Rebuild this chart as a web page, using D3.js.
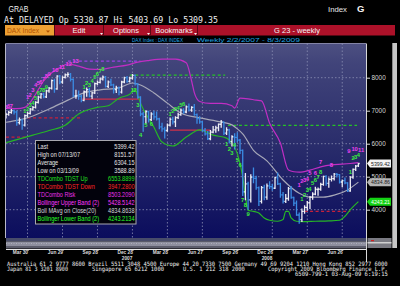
<!DOCTYPE html>
<html>
<head>
<meta charset="utf-8">
<script src="https://cdn.jsdelivr.net/npm/d3@7"></script>
<style>
  body { margin: 0; background: #000; }
  svg { display: block; }
</style>
</head>
<body>
<div id="chart"></div>
<script>
// weekly DAX bars, 2/2/2007 .. 8/3/2009 (week index 0..131)
const opens = [6800,6890,6950,7000,6960,6640,6720,6560,6850,6920,
  7050,7100,7250,7410,7500,7420,7600,7680,7910,7660,
  8050,7870,8010,8090,8100,7950,7450,7450,7440,7310,
  7580,7640,7440,7540,7820,7860,7960,8020,7740,7870,
  7780,7640,7700,7560,7870,8000,7890,7990,8070,7810,
  7410,6900,6820,6970,6730,6900,6810,6750,6510,6450,
  6400,6560,6740,6660,6790,6880,7020,6960,7120,7020,
  7100,6880,6760,6660,6400,6300,6150,6350,6420,6480,
  6590,6650,6320,6420,6060,6210,6190,6110,5800,4540,
  4780,4300,4990,4950,4670,4250,4670,4380,4720,4700,
  4650,4970,4780,4450,4250,4340,4640,4370,4200,3840,
  3700,3950,4070,4210,4380,4470,4610,4620,4770,5010,
  4800,4920,4940,5080,5060,4840,4880,4810,4570,4990,
  5220,5330.87];
const highs = [6920,6980,7040,7020,6990,6780,6730,6870,6950,7070,
  7130,7270,7440,7520,7530,7620,7700,7930,7950,8060,
  8070,8030,8110,8151.57,8130,7960,7620,7600,7470,7600,
  7690,7680,7560,7840,7900,7990,8050,8040,7900,7950,
  7800,7740,7720,7890,8010,8040,8010,8100,8080,7820,
  7420,6950,7000,6980,6940,6980,6960,6770,6620,6500,
  6600,6780,6800,6820,6920,7050,7060,7140,7200,7120,
  7190,6900,6820,6670,6460,6370,6400,6520,6530,6600,
  6700,6660,6480,6440,6240,6300,6330,6130,5810,5100,
  4830,5060,5266,5010,4690,4700,4740,4780,4850,4760,
  4980,5110,4800,4520,4460,4670,4700,4380,4260,3900,
  4020,4120,4250,4400,4510,4680,4660,4800,5010,5030,
  4960,5020,5100,5100,5070,4900,4960,4820,5000,5230,
  5340,5403.69];
const lows = [6780,6860,6920,6900,6560,6600,6440,6540,6810,6900,
  7010,7080,7230,7380,7390,7400,7560,7660,7560,7650,
  7820,7830,7990,8030,7900,7420,7380,7350,7270,7300,
  7440,7420,7370,7520,7790,7840,7930,7720,7700,7760,
  7540,7550,7480,7540,7850,7860,7870,7960,7780,7380,
  6850,6380,6620,6660,6700,6740,6720,6450,6380,6170,
  6380,6540,6600,6520,6760,6860,6920,6940,6990,6980,
  6860,6620,6620,6380,6260,6130,6120,6330,6350,6390,
  6500,6280,6280,6020,5930,5840,6060,5700,4430,4300,
  4014,4230,4820,4620,4130,4200,4300,4320,4640,4590,
  4640,4760,4380,4200,4220,4290,4350,4130,3830,3588.89,
  3640,3890,3980,4040,4320,4450,4440,4590,4740,4740,
  4680,4870,4900,4990,4810,4700,4790,4550,4560,4950,
  5190,5309.35];
const closes = [6890,6950,7000,6960,6640,6720,6560,6850,6920,7050,
  7100,7250,7410,7500,7420,7600,7680,7910,7660,8050,
  7870,8010,8090,8100,7950,7450,7450,7440,7310,7580,
  7640,7440,7540,7820,7860,7960,8020,7740,7870,7780,
  7640,7700,7560,7870,8000,7890,7990,8070,7810,7410,
  6900,6820,6970,6730,6900,6810,6750,6510,6450,6400,
  6560,6740,6660,6790,6880,7020,6960,7120,7020,7100,
  6880,6760,6660,6400,6300,6150,6350,6420,6480,6590,
  6650,6320,6420,6060,6210,6190,6110,5800,4540,4780,
  4300,4990,4950,4670,4250,4670,4380,4720,4700,4650,
  4970,4780,4450,4250,4340,4640,4370,4200,3840,3700,
  3950,4070,4210,4380,4470,4620,4620,4770,5010,4800,
  4920,4940,5080,5060,4840,4880,4810,4570,4990,5220,
  5320,5399.42];

// Bollinger study: [week, value]
const upperBand = [[0,7080],[4,7060],[7,7100],[9,7250],[11,7500],[14,7900],[17,8150],[20,8300],[23,8420],
  [27,8350],[31,8260],[35,8250],[40,8320],[45,8380],[49,8470],[53,8520],[58,8560],[63,8560],[67,8450],
  [69,7900],[70,7550],[72,7280],[76,7220],[80,7220],[84,7150],[85,7080],[87,7380],[90,7360],[93,7320],
  [95,7300],[98,6620],[102,6020],[105,5200],[107,5150],[109,5140],[113,5200],[117,5300],[121,5360],
  [125,5380],[128,5400],[131,5428.51]];
const midBand = [[0,6650],[5,6720],[10,6840],[16,7050],[23,7320],[29,7540],[35,7630],[42,7690],[47,7840],
  [50,7780],[55,7540],[60,7230],[65,6930],[72,6780],[80,6660],[84,6570],[86,6450],[88,6300],[92,5800],
  [97,5480],[103,4900],[109,4500],[113,4380],[118,4380],[122,4440],[127,4600],[131,4834.86]];
const lowerBand = [[0,6030],[10,6260],[16,6400],[22,6560],[27,6900],[34,7100],[38,7150],[42,7380],[46,7500],
  [48,7640],[49,7450],[50,7230],[55,6500],[58,6050],[62,5930],[67,6200],[72,6420],[77,6260],[82,6170],
  [84,6020],[86,5700],[88,5000],[89,4400],[90,3980],[92,3950],[94,3900],[96,3750],[98,3680],[101,3650],
  [103,3700],[104,3950],[105,3950],[106,3750],[108,3650],[110,3640],[115,3650],[120,3660],[124,3680],
  [126,3800],[128,4000],[131,4243.21]];

// TD levels: [fromWeek, toWeek, value]
const tdstUp = [[46,81.5,8080],[82.5,130.5,6553.89]];
const tdstDownDashed = [[0,8,6200],[8,28,6780],[111,128,3947.28]];
const tdstDownSolid = [[28,50,7350],[61,76,6410]];
const tdRisk = [[23,50,8503.21]];

// TD counts: [week, value, text]
const setupCounts = [[7,6990,"1"],[8,7060,"2"],[9,7180,"3"],[10,7250,"4"],[11,7380,"5"],[12,7540,"6"],[13,7620,"7"],[14,7640,"8"],[15,7730,"9"],
  [29,7720,"1"],[30,7830,"2"],[31,7780,"3"],[32,7900,"4"],[33,8020,"5"],[34,8130,"6"],[35,8210,"7"],[36,8280,"8"],
  [47,7620,"1"],[48,7640,"2"],[49,7180,"3"],[50,6260,"4"],[52,6560,"5"],[54,6600,"6"],
  [61,6900,"1"],[62,7000,"2"],[63,7040,"3"],[64,7100,"4"],[65,7180,"5"],[66,7200,"6"],
  [82,5980,"1"],[83,5850,"2"],[84,5720,"3"],[85,5960,"4"],[86,5500,"5"],[87,5350,"6"],[88,4300,"7"],[89,4150,"8"],[90,3880,"9"],
  [110,4320,"1"],[111,4440,"2"],[112,4590,"3"],[113,4620,"4"],[114,4800,"5"],[115,4890,"6"],[116,5000,"7"],[117,5140,"8"],
  [128,5140,"1"],[129,5560,"2"],[130,5600,"3"],[131,5650,"4"]];
const countdownCounts = [[0,7130,"5"],[1,7150,"6"],[2,7160,"7"],
  [8,7420,"1"],[9,7480,"2"],[10,7620,"3"],[11,7780,"4"],[12,7840,"5"],[13,7880,"6"],[14,7960,"7"],[15,8040,"8"],
  [16,8130,"9"],[18.3,8230,"10"],[20.8,8330,"11"],[23.3,8420,"12"],[25.8,8520,"13"],
  [109,4740,"1"],[110,4870,"2"],[111,4900,"3"],[112,4930,"4"],[113,5110,"5"],[115,5110,"6"],[117,5440,"7"],
  [121,5350,"8"],[127.5,5780,"9"],[129.6,5850,"10"],[132,5800,"11"]];

const priceTicks = [4000, 5000, 6000, 7000, 8000];
const dateTicks = [8, 21, 34, 47, 60, 73, 86, 99, 112, 125];
const dateLabels = ["Mar 30","Jun 29","Sep 28","Dec 28","Mar 28","Jun 27","Sep 26","Dec 26","Mar 27","Jun 26"];
const yearTicks = [47, 99];
const yearLabels = ["2007", "2008"];

const legendLabels = ["Last","High on 07/13/07","Average","Low on  03/13/09","TDCombo TDST Up","TDCombo TDST Down",
  "TDCombo Risk","Bollinger Upper Band (2)","Boll MAvg on Close(20)","Bollinger Lower Band (2)"];
const legendValues = ["5399.42","8151.57","6304.15","3588.89","6553.8899","3947.2800","8503.2090","5428.5142","4834.8638","4243.2134"];
const legendColors = ["#e6e6e6","#e6e6e6","#e6e6e6","#e6e6e6","#22e022","#ff2424","#e830e8","#ff38ff","#d8d8d8","#28ff28"];

const width = 400, height = 286;
const plot = { left: 6, right: 366, top: 43.5, bottom: 238 };
const sans = "'Liberation Sans', Arial, sans-serif";
const mono = "'DejaVu Sans Mono', 'Liberation Mono', monospace";

let svg = d3.select("#chart")
    .append("svg")
    .attr("width", width)
    .attr("height", height);

svg.append("rect").attr("width", width).attr("height", height).attr("fill", "#000");

let x = d3.scaleLinear()
    .domain([0, 133.83])
    .range([plot.left, plot.right]);

let y = d3.scaleLinear()
    .domain([3000, 9000])
    .range([242.7, 44.7]);

/* header */
svg.append("text").text("GRAB")
    .attr("x", 8.5).attr("y", 12.3)
    .attr("font-family", sans).attr("font-size", 9.5).attr("fill", "#f0f0f0")
    .attr("textLength", 20).attr("lengthAdjust", "spacingAndGlyphs");
svg.append("text").text("At DELAYED  Op 5330.87 Hi 5403.69 Lo 5309.35")
    .attr("x", 4).attr("y", 22.5)
    .attr("font-family", mono).attr("font-size", 8.3).attr("fill", "#f0f0f0")
    .attr("textLength", 214).attr("lengthAdjust", "spacingAndGlyphs");
svg.append("text").text("Index")
    .attr("x", 328).attr("y", 12)
    .attr("font-family", sans).attr("font-size", 8).attr("fill", "#e8e8e8")
    .attr("textLength", 19).attr("lengthAdjust", "spacingAndGlyphs");
svg.append("text").text("G")
    .attr("x", 357).attr("y", 12.3)
    .attr("font-family", sans).attr("font-size", 9.5).attr("font-weight", "bold").attr("fill", "#f4f4f4");

// menu bar
let menu = svg.append("g");
menu.append("rect").attr("x", 5).attr("y", 25).attr("width", 49).attr("height", 10.5).attr("fill", "#eea033");
menu.append("rect").attr("x", 54.5).attr("y", 25).attr("width", 340.5).attr("height", 10.5).attr("fill", "#ac1129");
[103, 150, 197].forEach(sx => {
    menu.append("rect").attr("x", sx).attr("y", 25).attr("width", 1).attr("height", 10.5).attr("fill", "#5a0814");
});
menu.append("text").text("DAX Index")
    .attr("x", 7).attr("y", 33.2)
    .attr("font-family", sans).attr("font-size", 7.5).attr("fill", "#b25200")
    .attr("textLength", 32).attr("lengthAdjust", "spacingAndGlyphs");
menu.append("path").attr("d", "M46,30.5 L50,30.5 L48,32.8 Z").attr("fill", "#b25200");
[["Edit", 79], ["Options", 126], ["Bookmarks", 174], ["G 23 - weekly", 297]].forEach(([t, cx]) => {
    menu.append("text").text(t)
        .attr("x", cx).attr("y", 33.2).attr("text-anchor", "middle")
        .attr("font-family", sans).attr("font-size", 7.5).attr("fill", "#f4f4f4");
});
[100, 147, 194].forEach(tx => {
    menu.append("path").attr("d", `M${tx},33 L${tx + 3},33 L${tx + 1.5},35 Z`).attr("fill", "#f0f0f0");
});

svg.append("text").text("DAX Index : DAX INDEX")
    .attr("x", 132).attr("y", 41.6)
    .attr("font-family", sans).attr("font-size", 5).attr("fill", "#1ea4e6")
    .attr("textLength", 51).attr("lengthAdjust", "spacingAndGlyphs");
svg.append("text").text("Weekly   2/2/2007 - 8/3/2009")
    .attr("x", 197).attr("y", 41.6)
    .attr("font-family", sans).attr("font-size", 5).attr("fill", "#1ea4e6")
    .attr("textLength", 103).attr("lengthAdjust", "spacingAndGlyphs");

/* plot background */
let defs = svg.append("defs");
let grad = defs.append("linearGradient").attr("id", "bg").attr("x1", 0).attr("x2", 0).attr("y1", 0).attr("y2", 1);
grad.append("stop").attr("offset", "0%").attr("stop-color", "#4d5081");
grad.append("stop").attr("offset", "10%").attr("stop-color", "#41447a");
grad.append("stop").attr("offset", "50%").attr("stop-color", "#2b2e6c");
grad.append("stop").attr("offset", "100%").attr("stop-color", "#0b0d5d");
defs.append("clipPath").attr("id", "plotClip")
    .append("rect")
    .attr("x", plot.left).attr("y", plot.top)
    .attr("width", plot.right - plot.left).attr("height", plot.bottom - plot.top);

svg.append("rect")
    .attr("x", plot.left).attr("y", plot.top)
    .attr("width", plot.right - plot.left).attr("height", plot.bottom - plot.top)
    .attr("fill", "url(#bg)");

// grid
let grid = svg.append("g")
    .attr("stroke", "#8c8fb4").attr("stroke-width", 0.8).attr("stroke-dasharray", "1.5,2");
grid.selectAll(".vg").data(dateTicks).join("line")
    .attr("x1", d => x(d)).attr("x2", d => x(d))
    .attr("y1", plot.top).attr("y2", plot.bottom);
grid.selectAll(".hg").data(priceTicks).join("line")
    .attr("x1", plot.left).attr("x2", plot.right)
    .attr("y1", d => y(d)).attr("y2", d => y(d));

let chart = svg.append("g").attr("clip-path", "url(#plotClip)");

// TD levels
function levels(data, color, dash, w) {
    chart.append("g").selectAll("line").data(data).join("line")
        .attr("x1", d => x(d[0])).attr("x2", d => x(d[1]))
        .attr("y1", d => y(d[2])).attr("y2", d => y(d[2]))
        .attr("stroke", color).attr("stroke-width", w)
        .attr("stroke-dasharray", dash);
}
levels(tdstUp, "#26c226", "3,2.5", 1.2);
levels(tdstDownDashed, "#c8203a", "3,2.5", 1.2);
levels(tdstDownSolid, "#d0304a", null, 1.1);
levels(tdRisk, "#9a40e8", "3,2.5", 1.1);

// bands
let line = d3.line()
    .x(d => x(d[0]))
    .y(d => y(d[1]))
    .curve(d3.curveMonotoneX);

chart.append("path").datum(upperBand).attr("d", line)
    .attr("fill", "none").attr("stroke", "#c02ec4").attr("stroke-width", 1.2);
chart.append("path").datum(midBand).attr("d", line)
    .attr("fill", "none").attr("stroke", "#a6a7b8").attr("stroke-width", 1.2);
chart.append("path").datum(lowerBand).attr("d", line)
    .attr("fill", "none").attr("stroke", "#26b626").attr("stroke-width", 1.2);

// OHLC bars
let bars = closes.map((c, i) => ({ i: i, o: opens[i], h: highs[i], l: lows[i], c: c }));

let bar = chart.selectAll(".bar")
    .data(bars)
    .join("g")
    .attr("class", "bar")
    .attr("stroke", d => d.c >= d.o ? "#eeeef4" : "#3b8ce4")
    .attr("stroke-width", 1.3);

bar.append("line")
    .attr("x1", d => x(d.i)).attr("x2", d => x(d.i))
    .attr("y1", d => y(d.h) - 0.5).attr("y2", d => y(d.l) + 0.5);
bar.append("line") // open tick
    .attr("x1", d => x(d.i) - 1.3).attr("x2", d => x(d.i))
    .attr("y1", d => y(d.o)).attr("y2", d => y(d.o));
bar.append("line") // close tick
    .attr("x1", d => x(d.i)).attr("x2", d => x(d.i) + 1.3)
    .attr("y1", d => y(d.c)).attr("y2", d => y(d.c));

// TD count numbers
function counts(data, color) {
    chart.append("g").selectAll("text").data(data).join("text")
        .text(d => d[2])
        .attr("x", d => x(d[0])).attr("y", d => y(d[1]) + 2.1)
        .attr("text-anchor", "middle")
        .attr("font-family", sans).attr("font-size", 5.8).attr("font-weight", "bold")
        .attr("fill", color);
}
counts(setupCounts, "#3cf03c");
counts(countdownCounts, "#f040f0");

// plot border
svg.append("line").attr("x1", plot.left - 0.5).attr("x2", plot.left - 0.5)
    .attr("y1", plot.top).attr("y2", plot.bottom).attr("stroke", "#b8b8c8").attr("stroke-width", 1);
svg.append("line").attr("x1", plot.left).attr("x2", plot.right)
    .attr("y1", plot.top).attr("y2", plot.top).attr("stroke", "#9a9cc0").attr("stroke-width", 0.8);
svg.append("line").attr("x1", plot.right + 0.5).attr("x2", plot.right + 0.5)
    .attr("y1", plot.top).attr("y2", 262).attr("stroke", "#d8d8d8").attr("stroke-width", 1);

/* legend */
let legend = svg.append("g");
legend.append("rect")
    .attr("x", 35.5).attr("y", 140.5).attr("width", 100.5).attr("height", 83.5)
    .attr("fill", "#02020c").attr("stroke", "#a8a8b0").attr("stroke-width", 1);
legendLabels.forEach((t, k) => {
    let yy = 148.7 + k * 8;
    legend.append("text").text(t)
        .attr("transform", `translate(37.5,${yy}) scale(0.8,1)`)
        .attr("font-family", sans).attr("font-size", 7).attr("fill", legendColors[k]);
    legend.append("text").text(legendValues[k])
        .attr("transform", `translate(134.5,${yy}) scale(0.8,1)`)
        .attr("text-anchor", "end")
        .attr("font-family", sans).attr("font-size", 7).attr("fill", legendColors[k]);
});

/* right price axis */
svg.append("g")
    .attr("transform", `translate(${plot.right},0)`)
    .call(d3.axisRight(y).tickValues(priceTicks).tickSize(4).tickPadding(1.5).tickFormat(d3.format("d")))
    .attr("font-family", sans).attr("font-size", 6.4)
    .call(g => g.select(".domain").remove())
    .call(g => g.selectAll("line").attr("stroke", "#e0e0e0"))
    .call(g => g.selectAll("text").attr("fill", "#d6d6d6"));

// last value flags
const flags = [[5399.42, "#f4f4f4", "#202020", "5399.42"], [4834.86, "#b4b4b4", "#202020", "4834.86"], [4243.21, "#14d214", "#f4fff4", "4243.21"]];
flags.forEach(([v, fill, ink, label]) => {
    let yc = y(v);
    svg.append("path")
        .attr("d", `M367,${yc} L370,${yc - 4} L391,${yc - 4} L391,${yc + 4} L370,${yc + 4} Z`)
        .attr("fill", fill);
    svg.append("text").text(label)
        .attr("x", 380.5).attr("y", yc + 2.2).attr("text-anchor", "middle")
        .attr("font-family", sans).attr("font-size", 6).attr("fill", ink)
        .attr("textLength", 19).attr("lengthAdjust", "spacingAndGlyphs");
});

// scroll bar
svg.append("rect").attr("x", 392).attr("y", 43).attr("width", 5).attr("height", 205).attr("fill", "#c6c6c6");
svg.append("rect").attr("x", 392).attr("y", 43).attr("width", 1).attr("height", 205).attr("fill", "#8a8a8a");

/* overview strip under plot */
svg.append("rect").attr("x", plot.left).attr("y", 238).attr("width", plot.right - plot.left).attr("height", 3.5).attr("fill", "#484c6a");
svg.append("rect").attr("x", plot.left).attr("y", 241.5).attr("width", plot.right - plot.left).attr("height", 4.5).attr("fill", "#8e8f9e");
svg.append("rect").attr("x", plot.left).attr("y", 246).attr("width", plot.right - plot.left).attr("height", 2.5).attr("fill", "#5c5d6c");
svg.append("line").attr("x1", plot.left).attr("x2", plot.right).attr("y1", 243.5).attr("y2", 243.5)
    .attr("stroke", "#c4c4cc").attr("stroke-width", 0.6).attr("stroke-dasharray", "1,1.5");
svg.append("rect").attr("x", 367.5).attr("y", 238).attr("width", 24).attr("height", 10).attr("fill", "#7a7a82");
svg.append("rect").attr("x", 367.5).attr("y", 242).attr("width", 24).attr("height", 1.5).attr("fill", "#d0d0d0");
svg.append("rect").attr("x", 371).attr("y", 240).attr("width", 3).attr("height", 1.2).attr("fill", "#d02020");

/* date axis */
svg.append("g")
    .attr("transform", "translate(0,249)")
    .call(d3.axisBottom(x).tickValues(dateTicks).tickSize(2).tickPadding(0).tickFormat((d, k) => dateLabels[k]))
    .attr("font-family", sans).attr("font-size", 4.8).attr("font-weight", "bold")
    .call(g => g.select(".domain").attr("stroke", "#e8e8e8").attr("d", `M${plot.left},0.5H${plot.right}`))
    .call(g => g.selectAll("line").attr("stroke", "#e8e8e8"))
    .call(g => g.selectAll("text").attr("fill", "#dcdcdc").attr("text-anchor", "end"));

svg.append("g").selectAll("text").data(yearTicks).join("text")
    .text((d, k) => yearLabels[k])
    .attr("x", d => x(d)).attr("y", 260.2).attr("text-anchor", "end")
    .attr("font-family", sans).attr("font-size", 4.8).attr("font-weight", "bold").attr("fill", "#dcdcdc");

/* footer: each run squeezed horizontally into the width it has in the picture */
function foot(t, x0, yb, len) {
    let txt = svg.append("text").text(t)
        .attr("font-family", mono).attr("font-size", 6).attr("fill", "#f0f0f0");
    let w = txt.node().getComputedTextLength();
    txt.attr("transform", `translate(${x0},${yb}) scale(${len / w},1)`);
}
foot("Australia 61 2 9777 8600 Brazil 5511 3048 4500 Europe 44 20 7330 7500 Germany 49 69 9204 1210 Hong Kong 852 2977 6000", 7, 266.3, 381);
foot("Japan 81 3 3201 8900", 7, 271.3, 61);
foot("Singapore 65 6212 1000", 92, 271.3, 72);
foot("U.S. 1 212 318 2000", 183, 271.3, 62);
foot("Copyright 2009 Bloomberg Finance L.P.", 268, 271.3, 120);
foot("6509-799-1 03-Aug-09  6:19:15", 295, 276.2, 93);
</script>
</body>
</html>
